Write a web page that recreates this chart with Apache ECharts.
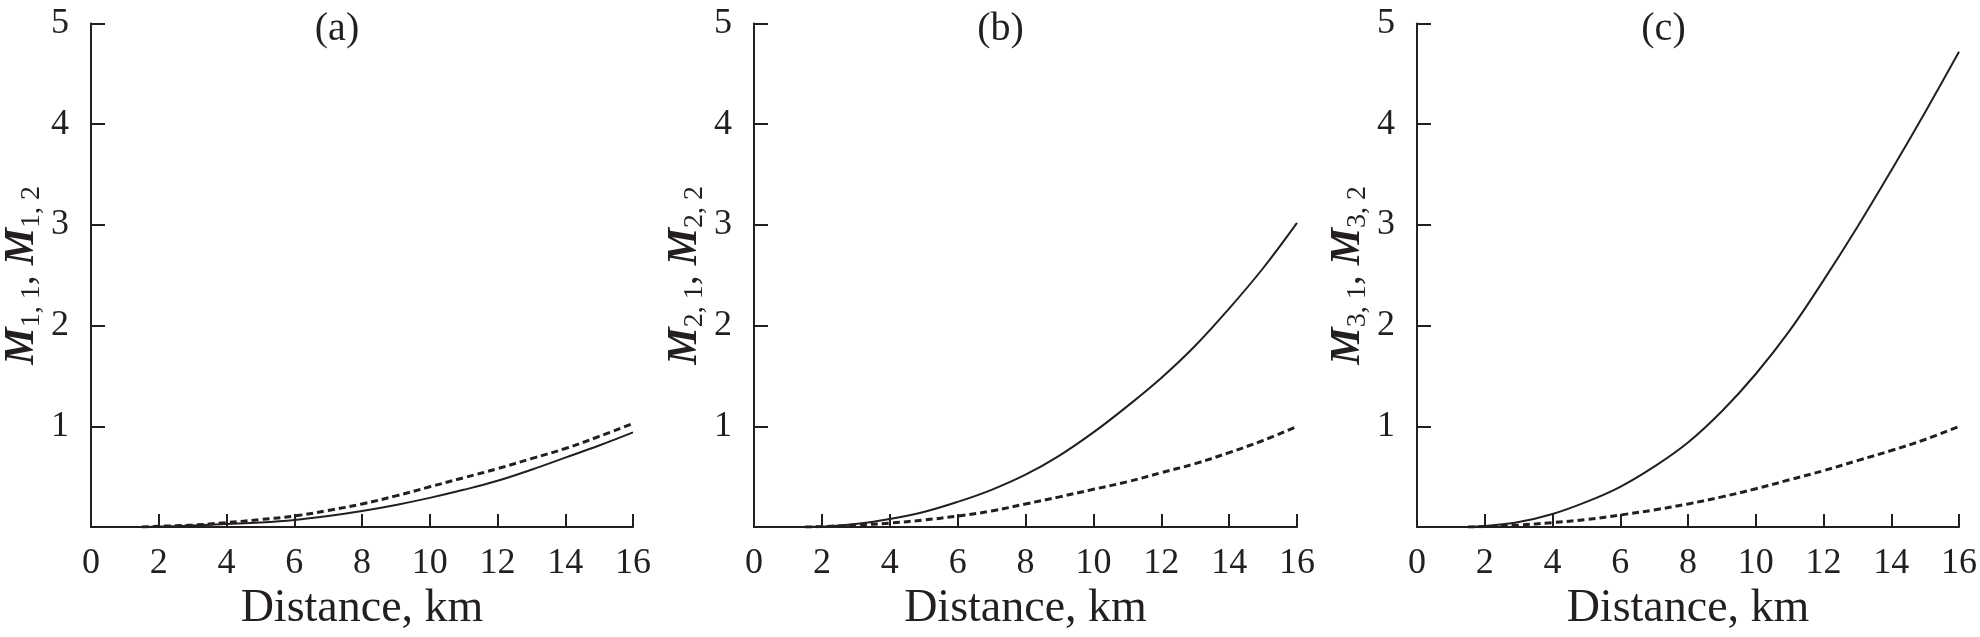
<!DOCTYPE html>
<html>
<head>
<meta charset="utf-8">
<script src="https://cdn.jsdelivr.net/npm/echarts@6/dist/echarts.min.js"></script>
<style>
html,body{margin:0;padding:0;background:#fff;}
#chart{width:1980px;height:637px;}
</style>
</head>
<body>
<div id="chart"></div>
<script>
// Distance, km
const distance = [1.5, 2, 3, 4, 5, 6, 7, 8, 9, 10, 11, 12, 13, 14, 15, 16];
// Panel (a)
const m11 = [0, 0.005, 0.015, 0.03, 0.045, 0.07, 0.11, 0.16, 0.22, 0.29, 0.37, 0.46, 0.57, 0.69, 0.81, 0.94];
const m12 = [0, 0.008, 0.02, 0.045, 0.075, 0.11, 0.165, 0.23, 0.31, 0.40, 0.49, 0.58, 0.68, 0.78, 0.90, 1.03];
// Panel (b)
const m21 = [0, 0.005, 0.03, 0.08, 0.15, 0.25, 0.37, 0.52, 0.71, 0.94, 1.20, 1.48, 1.80, 2.17, 2.57, 3.02];
const m22 = [0, 0.005, 0.02, 0.04, 0.07, 0.11, 0.16, 0.23, 0.30, 0.375, 0.45, 0.54, 0.63, 0.74, 0.86, 1.0];
// Panel (c)
const m31 = [0, 0.01, 0.05, 0.13, 0.25, 0.40, 0.60, 0.84, 1.15, 1.52, 1.95, 2.45, 2.98, 3.54, 4.12, 4.72];
const m32 = [0, 0.005, 0.02, 0.045, 0.075, 0.12, 0.17, 0.23, 0.30, 0.38, 0.47, 0.56, 0.66, 0.76, 0.87, 1.0];

const panelTitles = ['(a)', '(b)', '(c)'];
const panelIdx = ['1', '2', '3'];
const xTicks = [0, 2, 4, 6, 8, 10, 12, 14, 16];
const yTicks = [1, 2, 3, 4, 5];
const xName = 'Distance, km';

const solidSets = [m11, m21, m31];
const dashedSets = [m12, m22, m32];

const FONT = 'Liberation Serif';
const INK = '#231f20';

const grids = [
  {left: 91, top: 23.5, width: 542, height: 508.5},
  {left: 754, top: 23.5, width: 543, height: 508.5},
  {left: 1417, top: 23.5, width: 543, height: 508.5}
];

function pairs(ys) { return distance.map((d, i) => [d, ys[i]]); }

const xAxes = grids.map((g, i) => ({
  type: 'value', gridIndex: i, min: 0, max: 16, interval: 2,
  name: xName, nameLocation: 'middle', nameGap: 56,
  nameTextStyle: {fontFamily: FONT, fontSize: 46, color: INK},
  axisLine: {show: true, lineStyle: {color: INK, width: 2}},
  axisTick: {show: true, inside: true, length: 13, lineStyle: {color: INK, width: 2}},
  axisLabel: {fontFamily: FONT, fontSize: 36, color: INK, margin: 18,
    formatter: v => xTicks.includes(v) ? String(v) : ''},
  splitLine: {show: false}
}));

const yAxes = grids.map((g, i) => ({
  type: 'value', gridIndex: i, min: 0, max: 5, interval: 1,
  name: '{m|M}{s|' + panelIdx[i] + ', 1}{c|, }{m|M}{s|' + panelIdx[i] + ', 2}',
  nameLocation: 'middle', nameRotate: 90, nameGap: 45,
  nameTextStyle: {
    fontFamily: FONT, color: INK,
    rich: {
      m: {fontFamily: FONT, fontSize: 42, fontStyle: 'italic', fontWeight: 'bold', color: INK, lineHeight: 48},
      s: {fontFamily: FONT, fontSize: 28, color: INK, padding: [20, 0, 0, 0]},
      c: {fontFamily: FONT, fontSize: 40, color: INK, lineHeight: 48}
    }
  },
  axisLine: {show: true, lineStyle: {color: INK, width: 2}},
  axisTick: {show: true, inside: true, length: 14, lineStyle: {color: INK, width: 2}},
  axisLabel: {fontFamily: FONT, fontSize: 36, color: INK, margin: 22,
    formatter: v => yTicks.includes(v) ? String(v) : ''},
  splitLine: {show: false}
}));

const series = [];
grids.forEach((g, i) => {
  series.push({
    type: 'line', xAxisIndex: i, yAxisIndex: i, data: pairs(solidSets[i]),
    smooth: 0.4, symbol: 'none', lineStyle: {color: INK, width: 2, type: 'solid'}
  });
  series.push({
    type: 'line', xAxisIndex: i, yAxisIndex: i, data: pairs(dashedSets[i]),
    smooth: 0.4, symbol: 'none', lineStyle: {color: INK, width: 3, type: [7, 4]}
  });
});

const titles = grids.map((g, i) => ({
  text: panelTitles[i],
  left: g.left + g.width / 2 - 30, top: 4, textAlign: 'center',
  textStyle: {fontFamily: FONT, fontSize: 40, fontWeight: 'normal', color: INK}
}));

const chart = echarts.init(document.getElementById('chart'), null, {renderer: 'canvas'});
chart.setOption({
  backgroundColor: '#ffffff',
  animation: false,
  title: titles,
  grid: grids,
  xAxis: xAxes,
  yAxis: yAxes,
  series: series
});
</script>
</body>
</html>
